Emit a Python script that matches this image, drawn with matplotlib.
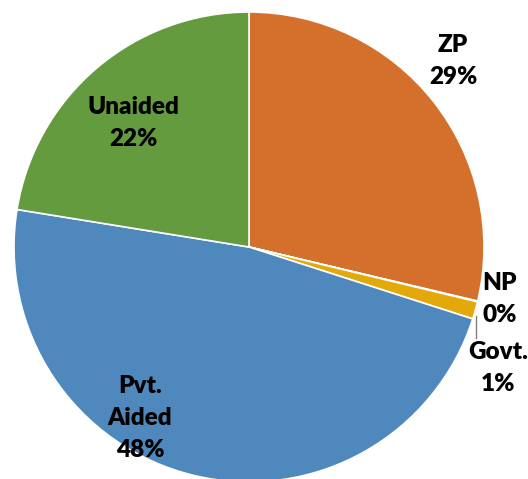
import matplotlib.pyplot as plt

# Share of schools by management
categories = ['ZP', 'NP', 'Govt.', 'Pvt.\nAided', 'Unaided']
shares = [28.7, 0.05, 1.2, 47.6, 22.45]
pct_labels = ['29%', '0%', '1%', '48%', '22%']
colors = ['#D4702B', '#A5A5A5', '#E3A90B', '#4F88BD', '#659B3F']

# label placement in pixel space (x, y from top)
label_pos = [(453, 61), (500, 299), (498, 368), (140, 418), (133, 123)]

W, H = 528, 479
cx, cy, r = 249, 247, 235

fig = plt.figure(figsize=(W / 100, H / 100), dpi=100)
ax = fig.add_axes([0, 0, 1, 1])

ax.pie(shares, colors=colors, startangle=90, counterclock=False,
       center=(cx, H - cy), radius=r,
       wedgeprops=dict(edgecolor='white', linewidth=1.2))
ax.set_xlim(0, W)
ax.set_ylim(0, H)
ax.set_aspect('equal')
ax.axis('off')

for name, pct, (x, y) in zip(categories, pct_labels, label_pos):
    ax.text(x, H - y, name + '\n' + pct, ha='center', va='center',
            fontsize=17.5, fontweight='heavy', family=['Lato', 'DejaVu Sans'],
            linespacing=1.58, color='black')

# leader line for the Govt. label
ax.plot([476, 476], [H - 316, H - 338], color='#7F7F7F', lw=1)

fig.savefig('out.png', dpi=100)
